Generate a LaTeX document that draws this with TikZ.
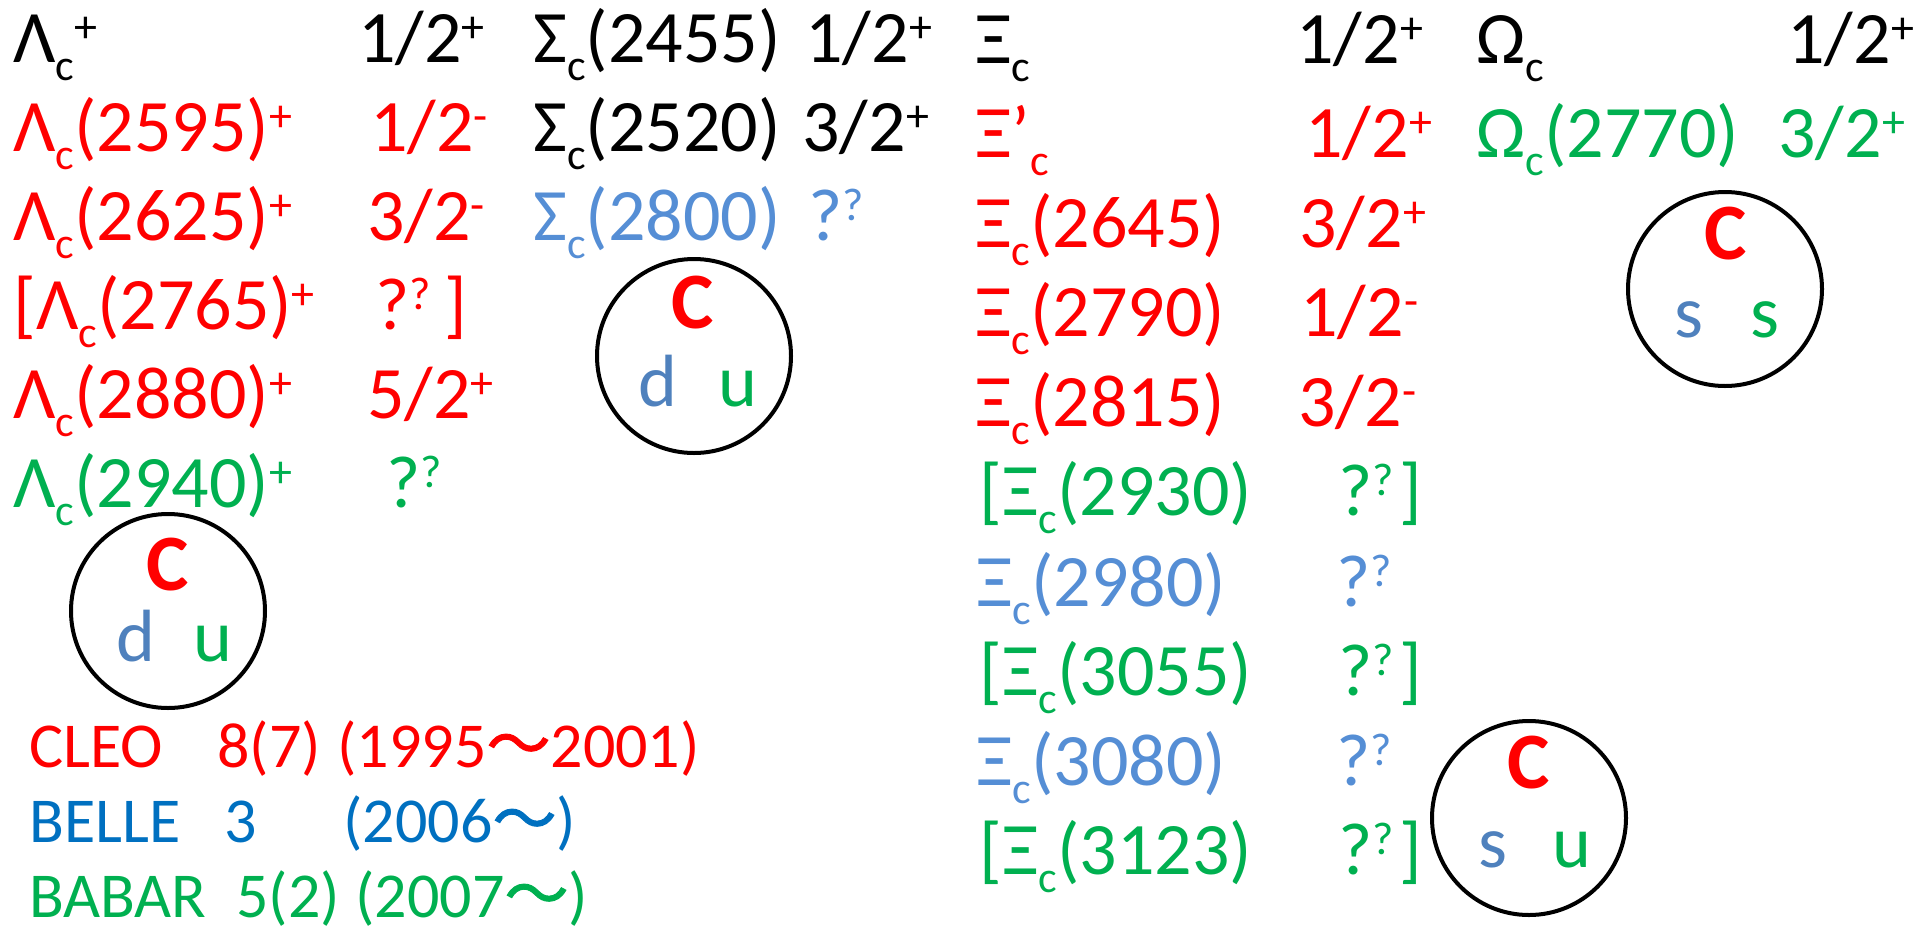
\documentclass[tikz,border=0pt]{standalone}
\usepackage{fontspec}
\setmainfont{Carlito}
\newfontfamily\cjk[FakeBold=1.5]{Noto Sans CJK JP}
\definecolor{pptred}{HTML}{FF0000}
\definecolor{pptgreen}{HTML}{00B050}
\definecolor{pptsky}{HTML}{558ED5}
\definecolor{quarkblue}{HTML}{4F81BD}
\definecolor{pptdark}{HTML}{0070C0}
\usepackage{tikz}
\usetikzlibrary{positioning}
\newcommand{\rowfont}{\fontsize{37}{44}\selectfont}
\newcommand{\legfont}{\fontsize{32}{38}\selectfont}
\newcommand{\sbc}{\raisebox{-9pt}{\fontsize{22}{22}\selectfont c}}
\newcommand{\spr}[1]{\raisebox{10pt}{\fontsize{23}{23}\selectfont #1}}

\begin{document}
\begin{tikzpicture}[x=0.5pt, y=-0.5pt,
			txt/.style={anchor=base west, inner sep=0pt, font=\rowfont},
			leg/.style={anchor=base west, inner sep=0pt, font=\legfont},
			quark/.style={draw=black, circle, line width=2pt, minimum size=97pt, inner sep=0pt},
			qc/.style={anchor=base, inner sep=0pt, text depth=0pt, font=\fontsize{40}{44}\selectfont\bfseries, pptred},
			ql/.style={anchor=base, inner sep=0pt, font=\rowfont}]
			\useasboundingbox (0,0) rectangle (1917,932);
			% Lambda_c
			\node[txt] (lam0) at (13,62) {Λ\sbc\spr{+}};
			\node[txt] (lam0j) at (358,62) {1/2\spr{+}};
			\node[txt, pptred] (lam1) at (13,151) {Λ\sbc(2595)\spr{+}};
			\node[txt, pptred] (lam1j) at (370,151) {1/2\spr{-}};
			\node[txt, pptred] (lam2) at (13,240) {Λ\sbc(2625)\spr{+}};
			\node[txt, pptred] (lam2j) at (367,240) {3/2\spr{-}};
			\node[txt, pptred] (lam3) at (13,329) {[Λ\sbc(2765)\spr{+}};
			\node[txt, pptred] (lam3j) at (375,329) {?\spr{?}};
			\node[txt, pptred] (lam3b) at (444,329) {]};
			\node[txt, pptred] (lam4) at (13,418) {Λ\sbc(2880)\spr{+}};
			\node[txt, pptred] (lam4j) at (367,418) {5/2\spr{+}};
			\node[txt, pptgreen] (lam5) at (13,507) {Λ\sbc(2940)\spr{+}};
			\node[txt, pptgreen] (lam5j) at (386,507) {?\spr{?}};
			\node[quark] (lamcirc) at (168,611) {};
			\node[qc] (lamC) at (168,590) {C};
			\node[ql, quarkblue] (lamd) at (136,661) {d};
			\node[ql, pptgreen] (lamu) at (213,661) {u};
			% Sigma_c
			\node[txt] (sig0) at (533,62) {Σ\sbc(2455)};
			\node[txt] (sig0j) at (805,62) {1/2\spr{+}};
			\node[txt] (sig1) at (533,151) {Σ\sbc(2520)};
			\node[txt] (sig1j) at (802,151) {3/2\spr{+}};
			\node[txt, pptsky] (sig2) at (533,240) {Σ\sbc(2800)};
			\node[txt, pptsky] (sig2j) at (808,240) {?\spr{?}};
			\node[quark] (sigcirc) at (694,356) {};
			\node[qc] (sigC) at (693,328) {C};
			\node[ql, quarkblue] (sigd) at (658,406) {d};
			\node[ql, pptgreen] (sigu) at (738,406) {u};
			% Xi_c
			\node[txt] (xi0) at (975,63) {Ξ\sbc};
			\node[txt] (xi0j) at (1296,63) {1/2\spr{+}};
			\node[txt, pptred] (xi1) at (975,157) {Ξ’\sbc};
			\node[txt, pptred] (xi1j) at (1305,157) {1/2\spr{+}};
			\node[txt, pptred] (xi2) at (975,247) {Ξ\sbc(2645)};
			\node[txt, pptred] (xi2j) at (1299,247) {3/2\spr{+}};
			\node[txt, pptred] (xi3) at (975,336) {Ξ\sbc(2790)};
			\node[txt, pptred] (xi3j) at (1300,336) {1/2\spr{-}};
			\node[txt, pptred] (xi4) at (975,426) {Ξ\sbc(2815)};
			\node[txt, pptred] (xi4j) at (1298,426) {3/2\spr{-}};
			\node[txt, pptgreen] (xi5) at (979,515) {[Ξ\sbc(2930)};
			\node[txt, pptgreen] (xi5j) at (1338,515) {?\spr{?}};
			\node[txt, pptgreen] (xi5b) at (1399,515) {]};
			\node[txt, pptsky] (xi6) at (976,606) {Ξ\sbc(2980)};
			\node[txt, pptsky] (xi6j) at (1336,606) {?\spr{?}};
			\node[txt, pptgreen] (xi7) at (979,695) {[Ξ\sbc(3055)};
			\node[txt, pptgreen] (xi7j) at (1338,695) {?\spr{?}};
			\node[txt, pptgreen] (xi7b) at (1399,695) {]};
			\node[txt, pptsky] (xi8) at (976,785) {Ξ\sbc(3080)};
			\node[txt, pptsky] (xi8j) at (1336,785) {?\spr{?}};
			\node[txt, pptgreen] (xi9) at (979,874) {[Ξ\sbc(3123)};
			\node[txt, pptgreen] (xi9j) at (1338,874) {?\spr{?}};
			\node[txt, pptgreen] (xi9b) at (1399,874) {]};
			\node[quark] (xicirc) at (1529,818) {};
			\node[qc] (xiC) at (1529,788) {C};
			\node[ql, quarkblue] (xis) at (1493,867) {s};
			\node[ql, pptgreen] (xiu) at (1572,867) {u};
			% Omega_c
			\node[txt] (om0) at (1476,63) {Ω\sbc};
			\node[txt] (om0j) at (1787,63) {1/2\spr{+}};
			\node[txt, pptgreen] (om1) at (1476,157) {Ω\sbc(2770)};
			\node[txt, pptgreen] (om1j) at (1778,157) {3/2\spr{+}};
			\node[quark] (omcirc) at (1725,289) {};
			\node[qc] (omC) at (1726,259) {C};
			\node[ql, quarkblue] (oms1) at (1689,337) {s};
			\node[ql, pptgreen] (oms2) at (1765,337) {s};
			% experiments
			\node[leg, pptred] (cleo) at (29,767) {CLEO};
			\node[leg, pptred] (cleon) at (217,767) {8(7)};
			\node[leg, pptred] (cleoy) at (337,767) {(1995{\cjk 〜}2001)};
			\node[leg, pptdark] (belle) at (29,842) {BELLE};
			\node[leg, pptdark] (bellen) at (224,842) {3};
			\node[leg, pptdark] (belley) at (343,842) {(2006{\cjk 〜})};
			\node[leg, pptgreen] (babar) at (29,917) {BABAR};
			\node[leg, pptgreen] (babarn) at (236,917) {5(2)};
			\node[leg, pptgreen] (babary) at (355,917) {(2007{\cjk 〜})};
		\end{tikzpicture}
\end{document}
